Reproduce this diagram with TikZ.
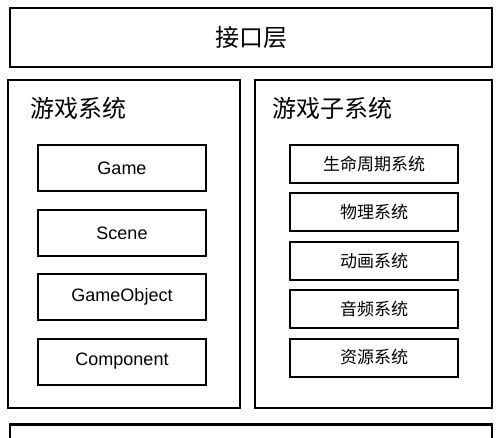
\documentclass[tikz,border=0pt]{standalone}
\usepackage{fontspec}
\setmainfont{Liberation Sans}
\newfontfamily\cjk{Noto Sans CJK SC}
\begin{document}
\begin{tikzpicture}[x=1pt,y=-1pt,
  outerbox/.style={draw=black,line width=2.4pt,inner sep=0pt},
  innerbox/.style={draw=black,line width=2pt,inner sep=0pt,minimum width=168pt},
  gamebox/.style={innerbox,minimum height=46pt,font=\fontsize{18}{20}\selectfont},
  subbox/.style={innerbox,minimum height=38pt,font=\cjk\fontsize{17}{19}\selectfont},
  titletext/.style={font=\cjk\fontsize{24}{26}\selectfont,inner sep=0pt,anchor=west}]
\useasboundingbox (0,0) rectangle (500,438);
\clip (0,0) rectangle (500,438);
\fill[white] (0,0) rectangle (500,438);
% top layer
\node[outerbox,minimum width=482pt,minimum height=59pt] (top) at (251,37.5) {};
\node[font=\cjk\fontsize{24}{26}\selectfont,inner sep=0pt] (toptext) at (top.center) {接口层};
% left panel
\node[outerbox,minimum width=232pt,minimum height=328pt] (left) at (124,244) {};
\node[titletext] (lefttitle) at (30,108) {游戏系统};
\node[gamebox] (game) at (122,168) {Game};
\node[gamebox] (scene) at (122,233) {Scene};
\node[gamebox] (gameobject) at (122,297) {GameObject};
\node[gamebox] (component) at (122,361.5) {Component};
% right panel
\node[outerbox,minimum width=237pt,minimum height=328pt] (right) at (373.5,244) {};
\node[titletext] (righttitle) at (272,108) {游戏子系统};
\node[subbox] (life) at (374,164) {生命周期系统};
\node[subbox] (physics) at (374,212.5) {物理系统};
\node[subbox] (anim) at (374,261) {动画系统};
\node[subbox] (audio) at (374,309) {音频系统};
\node[subbox] (res) at (374,357.5) {资源系统};
% bottom layer (cut off)
\node[outerbox,minimum width=482pt,minimum height=59pt] (bottom) at (251,454) {};
\end{tikzpicture}
\end{document}
